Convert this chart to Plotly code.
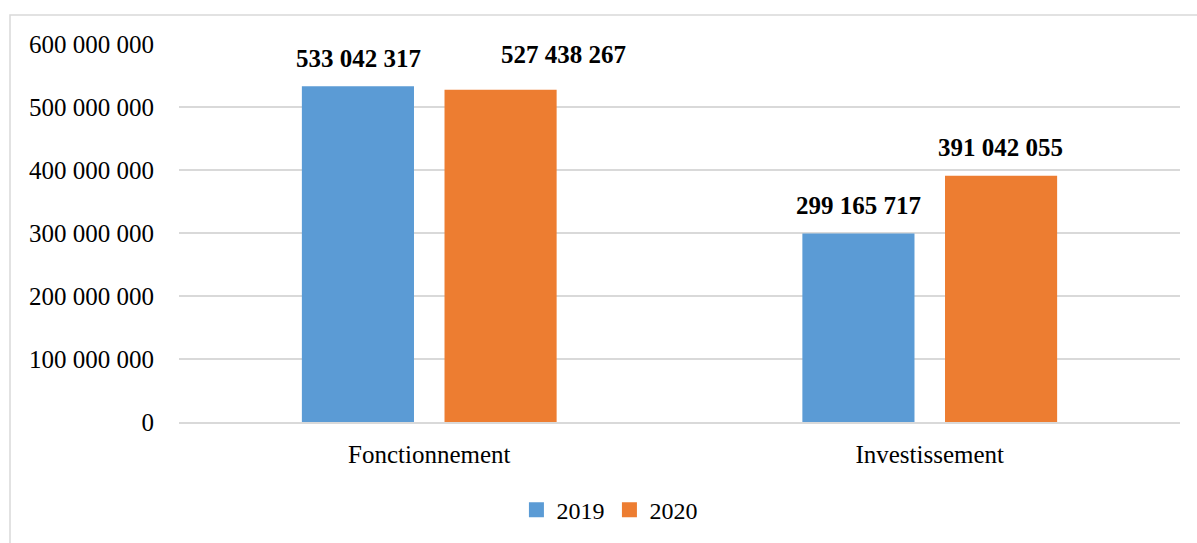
import plotly.graph_objects as go

categories = ["Fonctionnement", "Investissement"]
series_names = ["2019", "2020"]
values_2019 = [533042317, 299165717]
values_2020 = [527438267, 391042055]
colors = ["#5B9BD5", "#ED7D31"]
ytick_vals = [0, 100000000, 200000000, 300000000, 400000000, 500000000, 600000000]

FONT = "Liberation Serif"

def fmt(v):
    return f"{v:,}".replace(",", " ")

fig = go.Figure()
for name, vals, col in zip(series_names, [values_2019, values_2020], colors):
    fig.add_trace(go.Bar(x=categories, y=vals, name=name, showlegend=False,
                         marker=dict(color=col, line=dict(width=0))))
# legend entries with larger square symbols
for name, col in zip(series_names, colors):
    fig.add_trace(go.Scatter(x=[None], y=[None], mode="markers", name=name,
                             marker=dict(symbol="square", size=15, color=col)))

# value labels (label placement offsets: series, category -> pixel shifts)
label_shifts = {
    (0, 0): (-71, 28), (0, 1): (-71, 28),
    (1, 0): (134, 35), (1, 1): (71, 28),
}
for si, vals in enumerate([values_2019, values_2020]):
    for ci, (c, v) in enumerate(zip(categories, vals)):
        dx, dy = label_shifts[(si, ci)]
        fig.add_annotation(x=c, y=v, xref="x", yref="y", text=f"<b>{fmt(v)}</b>",
                           showarrow=False, xshift=dx, yshift=dy, yanchor="middle",
                           font=dict(family=FONT, size=25, color="#000"))

# outer border
fig.add_shape(type="rect", xref="paper", yref="paper",
              x0=(10 - 179) / 1001, x1=(1205 - 179) / 1001,
              y0=(423 - 560) / 379, y1=(423 - 15) / 379,
              line=dict(color="#D9D9D9", width=1.5), fillcolor="rgba(0,0,0,0)", layer="below")

fig.update_layout(
    width=1197, height=543,
    margin=dict(l=179, r=17, t=44, b=120),
    paper_bgcolor="white", plot_bgcolor="white",
    font=dict(family=FONT, size=25, color="#000"),
    barmode="group", bargap=0.43, bargroupgap=0.214,
    separators=". ",
    showlegend=True,
    legend=dict(orientation="h", x=0.43, xanchor="center", y=-0.23, yanchor="middle",
                font=dict(family=FONT, size=24), itemwidth=30, traceorder="normal"),
    xaxis=dict(showgrid=False, showline=True, linecolor="#D9D9D9", linewidth=1.5,
               ticks="outside", ticklen=9, tickcolor="rgba(0,0,0,0)",
               tickfont=dict(family=FONT, size=25)),
    yaxis=dict(range=[0, 600000000], tickvals=ytick_vals, tickformat=",d",
               showgrid=True, gridcolor="#D9D9D9", gridwidth=1.5, zeroline=False,
               showline=False, ticks="outside", ticklen=19, tickcolor="rgba(0,0,0,0)",
               tickfont=dict(family=FONT, size=25)),
)

fig.write_html("out.html", config={"displayModeBar": False},
               post_script="document.body.style.margin='0';")
